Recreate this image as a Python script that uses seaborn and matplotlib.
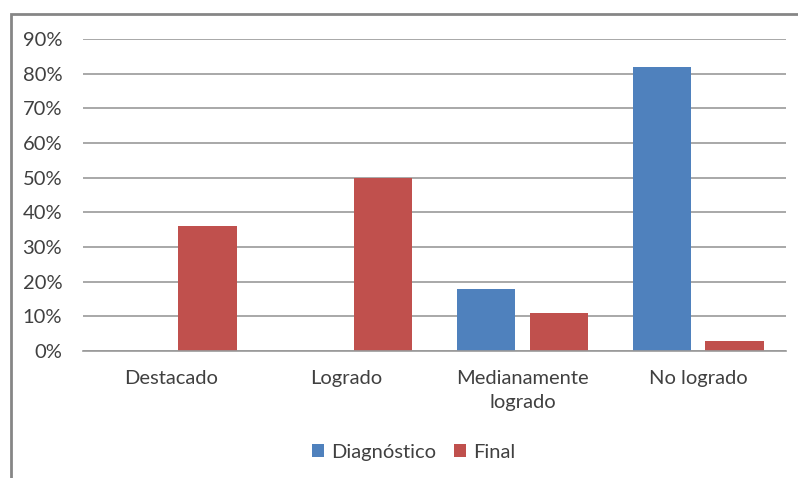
import matplotlib
matplotlib.use("Agg")
import matplotlib.pyplot as plt
import seaborn as sns
import pandas as pd
from matplotlib.patches import Rectangle
from matplotlib.ticker import FuncFormatter

categories = ["Destacado", "Logrado", "Medianamente\nlogrado", "No logrado"]
series_names = ["Diagnóstico", "Final"]
diagnostico = [0.0, 0.0, 0.18, 0.82]
final = [0.36, 0.50, 0.11, 0.03]
y_ticks = [0, 0.1, 0.2, 0.3, 0.4, 0.5, 0.6, 0.7, 0.8, 0.9]

df = pd.DataFrame({
    "cat": categories * 2,
    "serie": [series_names[0]] * 4 + [series_names[1]] * 4,
    "val": diagnostico + final,
})

sns.set_theme(style="white")
plt.rcParams["font.family"] = ["Lato", "DejaVu Sans"]

fig = plt.figure(figsize=(7.98, 4.78), dpi=100)
ax = fig.add_axes([0.104, 0.2657, 0.881, 0.6527])

palette = {"Diagnóstico": "#4F81BD", "Final": "#C0504D"}
sns.barplot(data=df, x="cat", y="val", hue="serie", palette=palette,
            width=0.83, gap=0.2, ax=ax, saturation=1, legend=True,
            linewidth=0, edgecolor="none")

ax.set_ylim(0, 0.9)
ax.set_yticks(y_ticks)
ax.yaxis.set_major_formatter(FuncFormatter(lambda v, p: f"{round(v*100)}%"))
ax.grid(axis="y", color="#999999", linewidth=1.2)
ax.set_axisbelow(True)
for s in ["top", "right", "left"]:
    ax.spines[s].set_visible(False)
ax.spines["bottom"].set_color("#999999")
ax.spines["bottom"].set_linewidth(1.2)
ax.tick_params(axis="both", length=0, labelsize=14.5, colors="#404040")
ax.tick_params(axis="y", pad=15)
ax.tick_params(axis="x", pad=14)
for lbl in ax.get_xticklabels():
    lbl.set_linespacing(1.5)
ax.set_xlabel("")
ax.set_ylabel("")
ax.set_xlim(-0.5, 3.5)

leg = ax.legend(loc="center", bbox_to_anchor=(0.518, 0.054), bbox_transform=fig.transFigure,
                ncol=2, frameon=False, fontsize=14.5, handlelength=0.6, handleheight=0.6,
                handletextpad=0.35, columnspacing=0.9)
for t in leg.get_texts():
    t.set_color("#404040")

fig.patches.append(Rectangle((11/798, -0.1), 1.2, 0.1 + (1 - 14/478), transform=fig.transFigure,
                             fill=False, edgecolor="#868686", linewidth=2, figure=fig))

fig.savefig("out.png", dpi=100)
